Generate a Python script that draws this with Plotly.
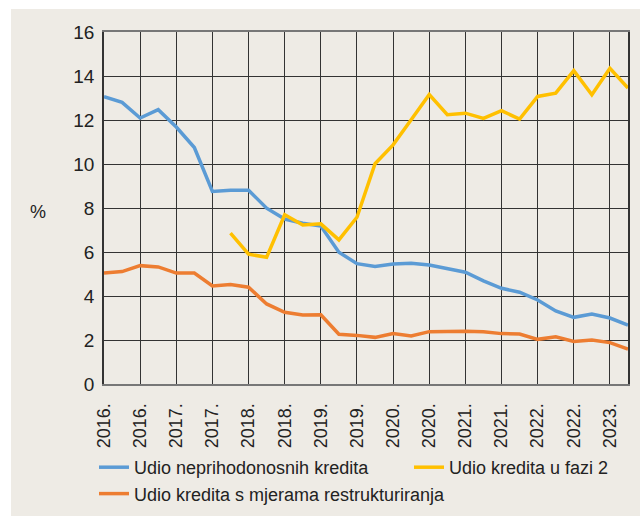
import plotly.graph_objects as go

quarters = [f"{y}Q{q}" for y in range(2016, 2024) for q in range(1, 5)][:30]
tick_labels = ["2016.", "2016.", "2017.", "2017.", "2018.", "2018.", "2019.", "2019.",
               "2020.", "2020.", "2021.", "2021.", "2022.", "2022.", "2023."]

npl_share = [13.06, 12.8, 12.09, 12.47, 11.68, 10.75, 8.75, 8.81, 8.81, 7.99,
             7.5, 7.31, 7.18, 5.99, 5.47, 5.34, 5.45, 5.49, 5.41, 5.26,
             5.08, 4.69, 4.35, 4.17, 3.82, 3.32, 3.03, 3.18, 3.0, 2.68]
stage2_share = [None, None, None, None, None, None, None, 6.86, 5.9, 5.76,
                7.69, 7.23, 7.28, 6.55, 7.58, 10.01, 10.87, 12.01, 13.16, 12.24,
                12.31, 12.07, 12.42, 12.04, 13.07, 13.22, 14.24, 13.15, 14.35, 13.45]
restructured_share = [5.05, 5.11, 5.38, 5.32, 5.04, 5.04, 4.46, 4.52, 4.4, 3.64,
                      3.26, 3.14, 3.15, 2.26, 2.21, 2.12, 2.29, 2.18, 2.38, 2.4,
                      2.4, 2.37, 2.29, 2.27, 2.03, 2.15, 1.93, 2.0, 1.88, 1.59]

names = ["Udio neprihodonosnih kredita", "Udio kredita u fazi 2",
         "Udio kredita s mjerama restrukturiranja"]
colors = ["#5b9bd5", "#ffc000", "#ed7d31"]

x = list(range(len(quarters)))
BG = "#eeebe5"
FONT = "Liberation Sans, Arial, sans-serif"
TXT = "#222222"

fig = go.Figure()
for name, vals, col in zip(names, [npl_share, stage2_share, restructured_share], colors):
    fig.add_trace(go.Scatter(x=x, y=vals, name=name, mode="lines",
                             line=dict(color=col, width=3.5),
                             customdata=quarters,
                             hovertemplate="%{customdata}: %{y}<extra></extra>"))

L, R, T, B = 104, 12, 32, 132
W, H = 640, 516
pw, ph = W - L - R, H - T - B

def px_x(p):
    return (p - L) / pw

def px_y(p):
    return (T + ph - p) / ph

fig.add_shape(type="rect", xref="paper", yref="paper", layer="below",
              x0=px_x(11), x1=px_x(W + 2), y0=px_y(H + 2), y1=px_y(9),
              fillcolor=BG, line=dict(width=0))

fig.update_layout(
    width=W, height=H,
    margin=dict(l=L, r=R, t=T, b=B, autoexpand=False),
    paper_bgcolor="white",
    plot_bgcolor=BG,
    font=dict(family=FONT, size=18, color=TXT),
    showlegend=True,
    legend=dict(orientation="h", x=px_x(94), xanchor="left", y=px_y(449), yanchor="top",
                bgcolor="rgba(0,0,0,0)", font=dict(size=18, family=FONT, color=TXT),
                entrywidth=270, tracegroupgap=0),
    xaxis=dict(range=[0, 29], tickmode="array", tickvals=x[0::2], ticktext=tick_labels,
               tickangle=-90, showgrid=True, gridcolor="#333333", gridwidth=1.3,
               showline=True, linecolor="#777777", linewidth=2, mirror=True,
               ticks="outside", ticklen=10, tickcolor=BG, zeroline=False, automargin=False,
               tickfont=dict(size=18, family=FONT, color=TXT)),
    yaxis=dict(range=[0, 16], dtick=2, showgrid=True, gridcolor="#333333", gridwidth=1.3,
               showline=True, linecolor="#333333", linewidth=1.5, mirror=True,
               ticks="outside", ticklen=4, tickcolor=BG, zeroline=False, automargin=False,
               tickfont=dict(size=19, family=FONT, color=TXT)),
    annotations=[dict(text="%", xref="paper", yref="paper", x=px_x(28), y=px_y(212),
                      showarrow=False, font=dict(size=18, family=FONT, color=TXT))],
)

fig.write_html("out.html", config={"displayModeBar": False},
               post_script="document.body.style.margin='0';document.body.style.overflow='hidden';")
